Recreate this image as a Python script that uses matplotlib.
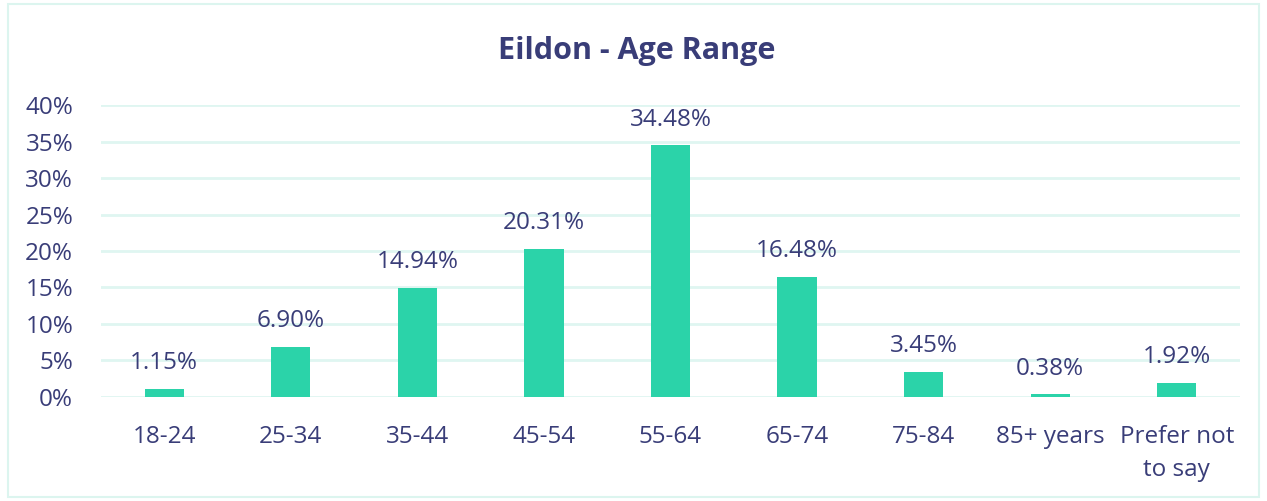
import numpy as np
import matplotlib.pyplot as plt
from matplotlib.patches import Rectangle
from matplotlib.ticker import FuncFormatter

# data
categories = ['18-24', '25-34', '35-44', '45-54', '55-64', '65-74', '75-84',
              '85+ years', 'Prefer not\nto say']
values = [1.15, 6.90, 14.94, 20.31, 34.48, 16.48, 3.45, 0.38, 1.92]
yticks = [0, 5, 10, 15, 20, 25, 30, 35, 40]

navy = '#393d78'
green = '#2bd3a9'
grid = '#dff6f1'

plt.rcParams['font.family'] = ['Open Sans', 'DejaVu Sans']

fig = plt.figure(figsize=(12.67, 5.01), dpi=100)
ax = fig.add_axes([0.0797, 0.2076, 0.8990, 0.5828])

x = np.arange(len(categories))
ax.bar(x, values, width=0.31, color=green, zorder=3)
for xi, v in zip(x, values):
    ax.text(xi, v + 2.7, '%.2f%%' % v, ha='center', va='baseline',
            fontsize=17.5, color=navy)

ax.set_xlim(-0.5, len(categories) - 0.5)
ax.set_ylim(0, 40)
ax.set_yticks(yticks)
ax.yaxis.set_major_formatter(FuncFormatter(lambda v, p: '%d%%' % v))
ax.set_xticks(x)
ax.set_xticklabels(categories, linespacing=1.5)
ax.tick_params(axis='both', length=0, labelsize=17.5, labelcolor=navy)
ax.tick_params(axis='x', pad=20)
ax.tick_params(axis='y', pad=20)

ax.grid(axis='y', color=grid, linewidth=2, zorder=0)
for s in ax.spines.values():
    s.set_visible(False)

fig.text(0.5029, 0.898, 'Eildon - Age Range', ha='center', va='center',
         fontsize=22, fontweight='bold', color=navy)

# light border around the whole chart
fig.patches.append(Rectangle((0.006, 0.008), 0.988, 0.984, transform=fig.transFigure,
                             fill=False, edgecolor='#dcf5ef', linewidth=1.5))

fig.savefig('out.png', dpi=100)
